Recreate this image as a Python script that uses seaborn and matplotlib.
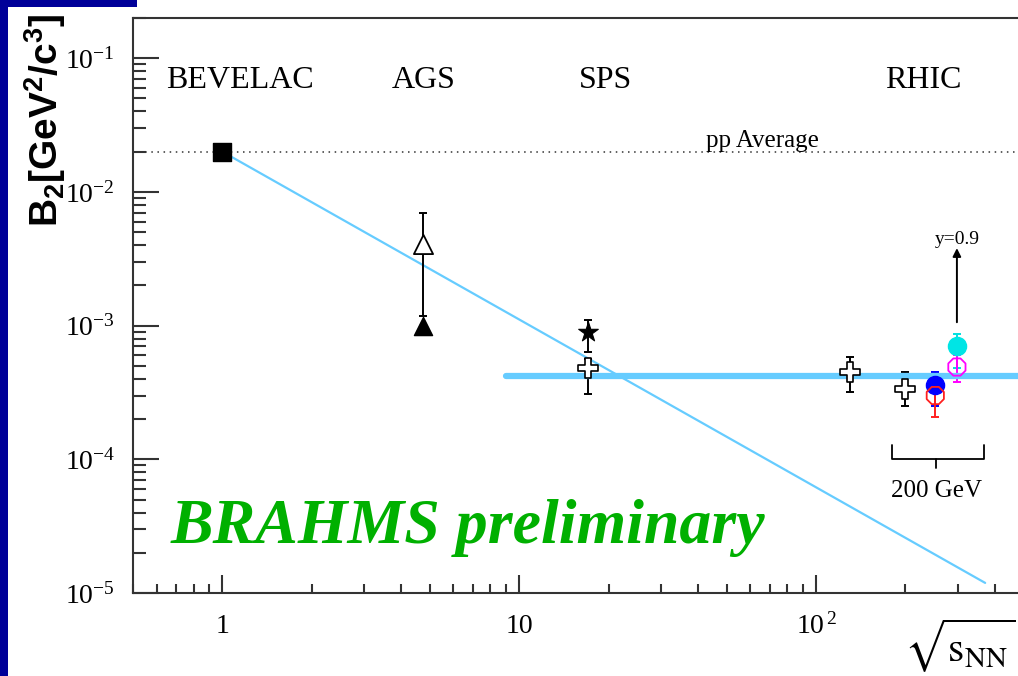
import numpy as np
import pandas as pd
import matplotlib
matplotlib.use("Agg")
import matplotlib.pyplot as plt
from matplotlib.patches import Rectangle
from matplotlib.ticker import FixedLocator, FixedFormatter, LogLocator, NullFormatter
import seaborn as sns

# ---------------- data ----------------
facility_names = ["BEVELAC", "AGS", "SPS", "RHIC"]
facility_label_x = [1.15, 4.75, 19.5, 229.0]
facility_label_y = 0.060

pp_average = 0.02
pp_label = "pp Average"
pp_label_x = 65.8

bevelac_x = [1.0]
bevelac_y = [0.02]

ags_open_x = [4.75]
ags_open_y = [4.1e-3]
ags_open_lo = [1.18e-3]
ags_open_hi = [6.9e-3]

ags_filled_x = [4.75]
ags_filled_y = [1.0e-3]

sps_star_x = [17.1]
sps_star_y = [8.9e-4]
sps_star_lo = [6.4e-4]
sps_star_hi = [1.1e-3]

cross_x = [17.1, 130.0, 200.0]
cross_y = [4.8e-4, 4.5e-4, 3.35e-4]
cross_lo = [3.1e-4, 3.2e-4, 2.5e-4]
cross_hi = [5.6e-4, 5.8e-4, 4.5e-4]

blue_x = [252.0]
blue_y = [3.6e-4]
blue_lo = [2.5e-4]
blue_hi = [4.5e-4]

red_x = [252.0]
red_y = [3.0e-4]
red_lo = [2.07e-4]
red_hi = [4.1e-4]

cyan_x = [298.0]
cyan_y = [7.1e-4]
cyan_lo = [4.8e-4]
cyan_hi = [8.6e-4]

magenta_x = [298.0]
magenta_y = [4.9e-4]
magenta_lo = [3.8e-4]
magenta_hi = [6.0e-4]

fit_line_x = [1.0, 371.0]
fit_line_y = [0.02, 1.19e-5]

flat_line_x = [9.0, 1000.0]
flat_line_y = [4.2e-4, 4.2e-4]

arrow_x = 298.0
arrow_y_from = 1.06e-3
arrow_y_to = 3.8e-3
arrow_label = "y=0.9"
arrow_label_y = 4.05e-3

bracket_x = [180.0, 180.0, 368.0, 368.0]
bracket_y = [1.28e-4, 1.0e-4, 1.0e-4, 1.28e-4]
bracket_tick_x = [254.0, 254.0]
bracket_tick_y = [1.0e-4, 8.6e-5]
bracket_label = "200 GeV"
bracket_label_y = 5.2e-5

watermark = "BRAHMS preliminary"
watermark_x = 0.668
watermark_y = 2.37e-5

x_ticks = [1, 10, 100]
x_tick_labels = ["1", "10", r"$\mathdefault{10^{\,2}}$"]
y_ticks = [1e-5, 1e-4, 1e-3, 1e-2, 1e-1]
y_tick_labels = [r"$\mathdefault{10^{-5}}$", r"$\mathdefault{10^{-4}}$",
                 r"$\mathdefault{10^{-3}}$", r"$\mathdefault{10^{-2}}$",
                 r"$\mathdefault{10^{-1}}$"]
y_label = r"$\mathbf{B_{2}[GeV^{2}/c^{3}]}$"
x_label = r"$\sqrt{\mathrm{s}_{\mathrm{NN}}}$"

# ---------------- style ----------------
sns.set_style("ticks")
plt.rcParams["font.family"] = ["Liberation Serif", "DejaVu Serif"]
plt.rcParams["mathtext.fontset"] = "custom"
plt.rcParams["mathtext.rm"] = "Liberation Serif"
plt.rcParams["mathtext.it"] = "Liberation Serif:italic"
plt.rcParams["mathtext.bf"] = "Liberation Sans:bold"
plt.rcParams["text.color"] = "black"
plt.rcParams["xtick.labelcolor"] = "black"
plt.rcParams["ytick.labelcolor"] = "black"

W, H = 1018, 676
fig = plt.figure(figsize=(W / 100, H / 100), dpi=100, facecolor="white")

# blue frame of the slide
fig.patches.append(Rectangle((0, 1 - 7 / H), 137 / W, 7 / H, transform=fig.transFigure,
                             facecolor="#000099", edgecolor="none", zorder=0))
fig.patches.append(Rectangle((0, 0), 8 / W, 1, transform=fig.transFigure,
                             facecolor="#000099", edgecolor="none", zorder=0))

ax = fig.add_axes([133 / W, 83 / H, (1113 - 133) / W, 575 / H])
ax.set_xscale("log")
ax.set_yscale("log")
ax.set_xlim(0.5, 1000)
ax.set_ylim(1e-5, 0.2)

light_blue = "#66ccff"

# pp average dotted line
sns.lineplot(x=[0.5, 1000], y=[pp_average, pp_average], ax=ax, color="#333333",
             linestyle=(0, (1, 3)), linewidth=1.1, zorder=1)
ax.text(pp_label_x, pp_average * 1.08, pp_label, ha="center", va="baseline", fontsize=18,
        color="black")

# fit lines
sns.lineplot(x=fit_line_x, y=fit_line_y, ax=ax, color=light_blue, linewidth=1.6,
             sort=False, estimator=None, zorder=2)
sns.lineplot(x=flat_line_x, y=flat_line_y, ax=ax, color=light_blue, linewidth=4.5,
             sort=False, estimator=None, zorder=3)


def errs(y, lo, hi):
    y = np.asarray(y)
    return [y - np.asarray(lo), np.asarray(hi) - y]


eb_kw = dict(fmt="none", elinewidth=1.4, capsize=3.2, capthick=1.4, zorder=2.5)
ax.errorbar(ags_open_x, ags_open_y, yerr=errs(ags_open_y, ags_open_lo, ags_open_hi), ecolor="black", **eb_kw)
ax.errorbar(sps_star_x, sps_star_y, yerr=errs(sps_star_y, sps_star_lo, sps_star_hi), ecolor="black", **eb_kw)
ax.errorbar(cross_x, cross_y, yerr=errs(cross_y, cross_lo, cross_hi), ecolor="black", **eb_kw)
ax.errorbar(blue_x, blue_y, yerr=errs(blue_y, blue_lo, blue_hi), ecolor="#0000ff", **eb_kw)
ax.errorbar(red_x, red_y, yerr=errs(red_y, red_lo, red_hi), ecolor="#ff2020", **eb_kw)
ax.errorbar(cyan_x, cyan_y, yerr=errs(cyan_y, cyan_lo, cyan_hi), ecolor="#00e0e0", **eb_kw)
ax.errorbar(magenta_x, magenta_y, yerr=errs(magenta_y, magenta_lo, magenta_hi), ecolor="#ff00ff", **eb_kw)

# markers
sns.scatterplot(x=bevelac_x, y=bevelac_y, ax=ax, marker="s", s=150, color="black",
                edgecolor="black", linewidth=1, zorder=5)
sns.scatterplot(x=ags_open_x, y=ags_open_y, ax=ax, marker="^", s=190, color="white",
                edgecolor="black", linewidth=1.3, zorder=5)
sns.scatterplot(x=ags_filled_x, y=ags_filled_y, ax=ax, marker="^", s=170, color="black",
                edgecolor="black", linewidth=1, zorder=5)
sns.scatterplot(x=sps_star_x, y=sps_star_y, ax=ax, marker="*", s=220, color="black",
                edgecolor="black", linewidth=0.8, zorder=5)
sns.scatterplot(x=cross_x, y=cross_y, ax=ax, marker="P", s=200, color="white",
                edgecolor="black", linewidth=1.2, zorder=5)
sns.scatterplot(x=blue_x, y=blue_y, ax=ax, marker="o", s=170, color="#0000ff",
                edgecolor="#0000ff", linewidth=1, zorder=5)
sns.scatterplot(x=red_x, y=red_y, ax=ax, marker="8", s=180, color="none",
                edgecolor="#ff2020", linewidth=1.3, zorder=6)
sns.scatterplot(x=magenta_x, y=magenta_y, ax=ax, marker="8", s=180, color="none",
                edgecolor="#ff00ff", linewidth=1.3, zorder=5)
sns.scatterplot(x=cyan_x, y=cyan_y, ax=ax, marker="o", s=170, color="#00e5e5",
                edgecolor="#00e5e5", linewidth=1, zorder=6)

# arrow towards y=0.9 point
ax.annotate("", xy=(arrow_x, arrow_y_to), xytext=(arrow_x, arrow_y_from),
            arrowprops=dict(arrowstyle="-|>", color="black", lw=1.4, mutation_scale=12,
                            shrinkA=0, shrinkB=0), zorder=5)
ax.text(arrow_x, arrow_label_y, arrow_label, ha="center", va="baseline", fontsize=14,
        color="black")

# 200 GeV bracket
sns.lineplot(x=bracket_x, y=bracket_y, ax=ax, color="black", linewidth=1.3,
             sort=False, estimator=None, zorder=4)
sns.lineplot(x=bracket_tick_x, y=bracket_tick_y, ax=ax, color="black", linewidth=1.3,
             sort=False, estimator=None, zorder=4)
ax.text(bracket_tick_x[0], bracket_label_y, bracket_label, ha="center", va="baseline",
        fontsize=18, color="black")

# facility labels
for name, xpos in zip(facility_names, facility_label_x):
    ax.text(xpos, facility_label_y, name, ha="center", va="baseline", fontsize=23,
            color="black")

# watermark
ax.text(watermark_x, watermark_y, watermark, ha="left", va="baseline", fontsize=46,
        color="#00b000", fontweight="bold", fontstyle="italic")

# axes styling
for side in ["left", "bottom", "top", "right"]:
    ax.spines[side].set_visible(True)
    ax.spines[side].set_color("#333333")
    ax.spines[side].set_linewidth(1.5)

ax.xaxis.set_major_locator(FixedLocator(x_ticks))
ax.xaxis.set_major_formatter(FixedFormatter(x_tick_labels))
ax.xaxis.set_minor_locator(LogLocator(base=10, subs=np.arange(2, 10)))
ax.xaxis.set_minor_formatter(NullFormatter())
ax.yaxis.set_major_locator(FixedLocator(y_ticks))
ax.yaxis.set_major_formatter(FixedFormatter(y_tick_labels))
ax.yaxis.set_minor_locator(LogLocator(base=10, subs=np.arange(2, 10), numticks=20))
ax.yaxis.set_minor_formatter(NullFormatter())

ax.tick_params(axis="both", which="both", direction="in", color="#333333", width=1.5,
               top=False, right=False, labelsize=20, labelcolor="black")
ax.tick_params(axis="y", which="major", length=18.7, pad=13)
ax.tick_params(axis="y", which="minor", length=9.4)
ax.tick_params(axis="x", which="major", length=13, pad=29)
ax.tick_params(axis="x", which="minor", length=6.5)
plt.setp(ax.get_xticklabels(), va="baseline")

ax.set_xlabel("")
ax.set_ylabel("")
fig.text(45 / W, 1 - 120 / H, y_label, rotation=90, ha="center", va="center", fontsize=28,
         color="black")
fig.text(1016 / W, 14 / H, x_label, ha="right", va="baseline", fontsize=30,
         math_fontfamily="stix", color="black")

fig.savefig("out.png", dpi=100, facecolor="white")
